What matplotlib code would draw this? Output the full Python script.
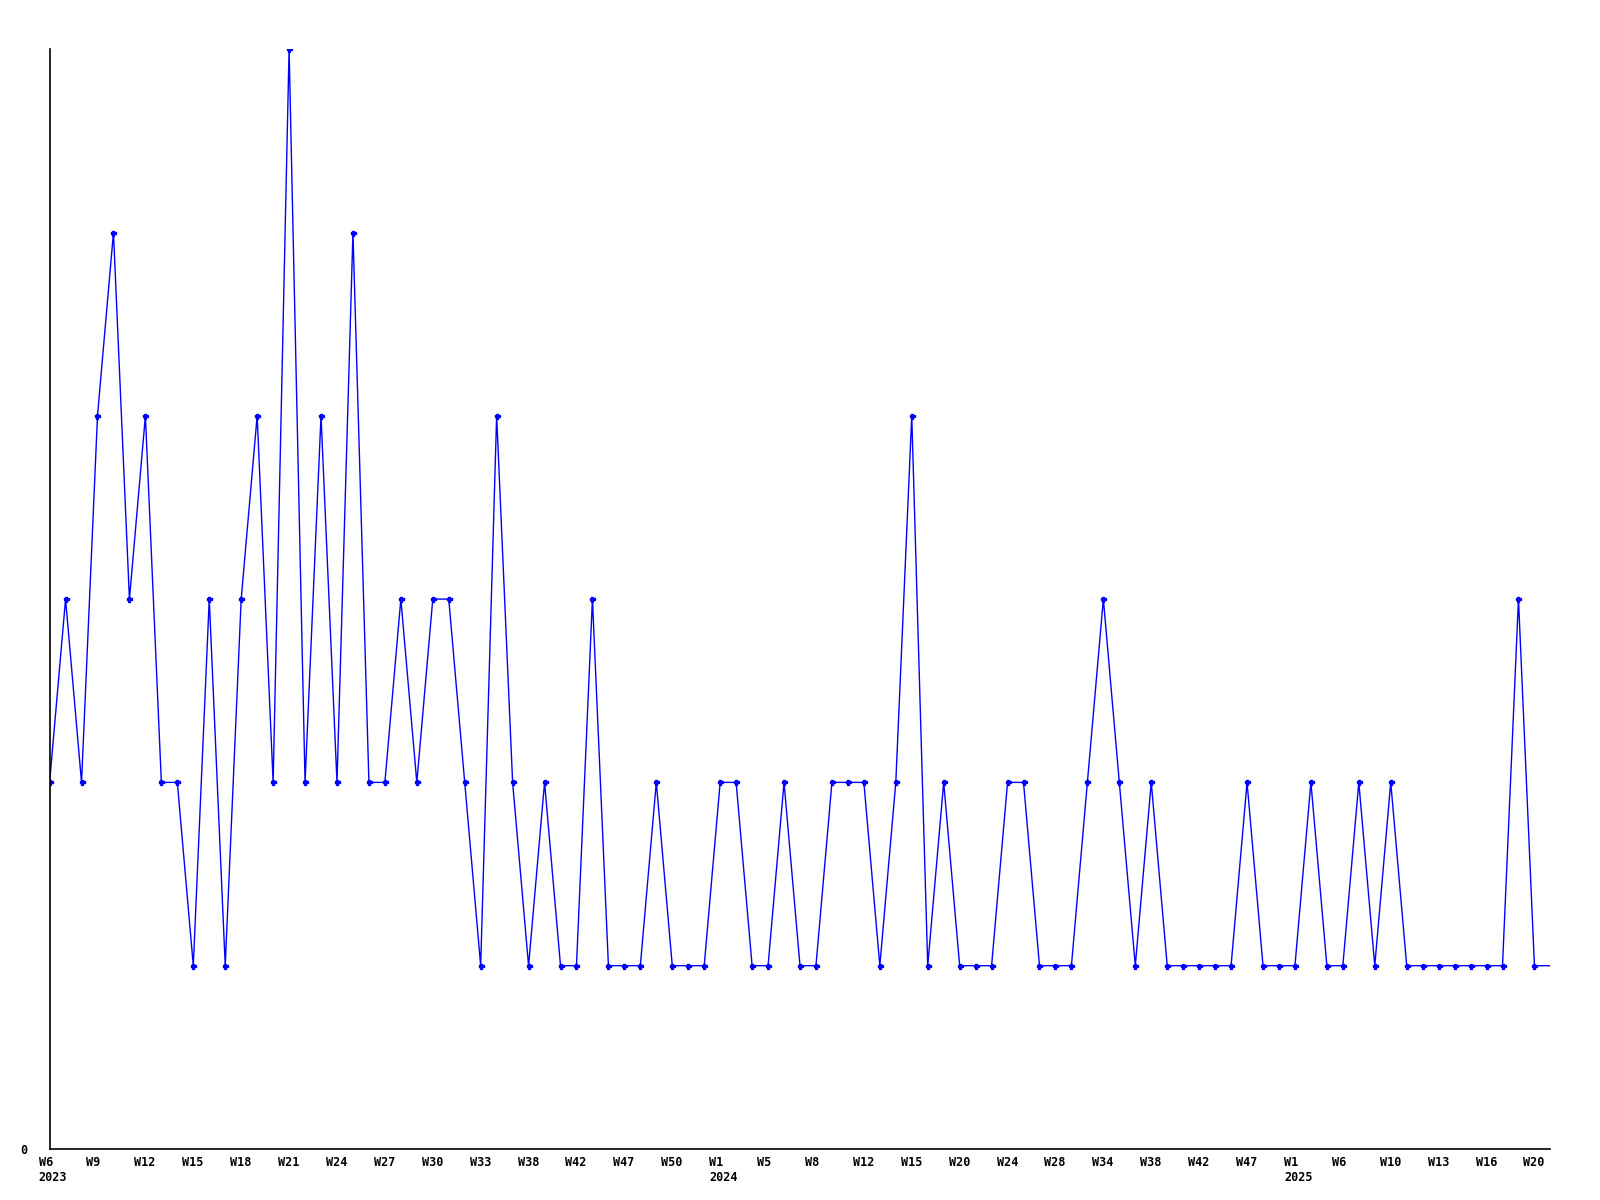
import matplotlib

matplotlib.use("Agg")
import matplotlib.pyplot as plt
from matplotlib.transforms import ScaledTranslation

# weekly counts, one value per point (categorical x axis)
counts = [
    2, 3, 2, 4, 5, 3, 4, 2, 2, 1,
    3, 1, 3, 4, 2, 6, 2, 4, 2, 5,
    2, 2, 3, 2, 3, 3, 2, 1, 4, 2,
    1, 2, 1, 1, 3, 1, 1, 1, 2, 1,
    1, 1, 2, 2, 1, 1, 2, 1, 1, 2,
    2, 2, 1, 2, 4, 1, 2, 1, 1, 1,
    2, 2, 1, 1, 1, 2, 3, 2, 1, 2,
    1, 1, 1, 1, 1, 2, 1, 1, 1, 2,
    1, 1, 2, 1, 2, 1, 1, 1, 1, 1,
    1, 1, 3, 1, 1,
]

# one label every third point
tick_labels = [
    "W6\n2023", "W9", "W12", "W15", "W18", "W21", "W24", "W27", "W30", "W33",
    "W38", "W42", "W47", "W50",
    "W1\n2024", "W5", "W8", "W12", "W15", "W20", "W24", "W28", "W34", "W38",
    "W42", "W47",
    "W1\n2025", "W6", "W10", "W13", "W16", "W20",
]

xs = list(range(len(counts)))

fig = plt.figure(figsize=(16, 12), dpi=100)
ax = fig.add_axes([0.031, 0.0425, 0.938, 0.9165])

ax.plot(xs, counts, color="#0000ff", linewidth=1.0)
# last point has no marker in the original
ax.plot(xs[:-1], counts[:-1], linestyle="none", marker="P",
        markersize=3.6, color="#0000ff")

ax.set_xlim(0, len(counts) - 1)
ax.set_ylim(0, max(counts))

for side in ["top", "right"]:
    ax.spines[side].set_visible(False)
for side in ["left", "bottom"]:
    ax.spines[side].set_linewidth(1.2)
    ax.spines[side].set_color("black")

font = dict(family="DejaVu Sans Mono", weight="bold", size=8.5)

ax.set_yticks([0])
ax.set_yticklabels(["0"], **font)
ax.tick_params(axis="y", length=0, pad=16)

ax.set_xticks(xs[::3][: len(tick_labels)])
ax.set_xticklabels(tick_labels, ha="left", va="top", linespacing=1.25, **font)
ax.tick_params(axis="x", length=0, pad=5)
offset = ScaledTranslation(-11 / 100, 0, fig.dpi_scale_trans)
for label in ax.get_xticklabels():
    label.set_transform(label.get_transform() + offset)

fig.savefig("out.png", dpi=100, facecolor="white")
